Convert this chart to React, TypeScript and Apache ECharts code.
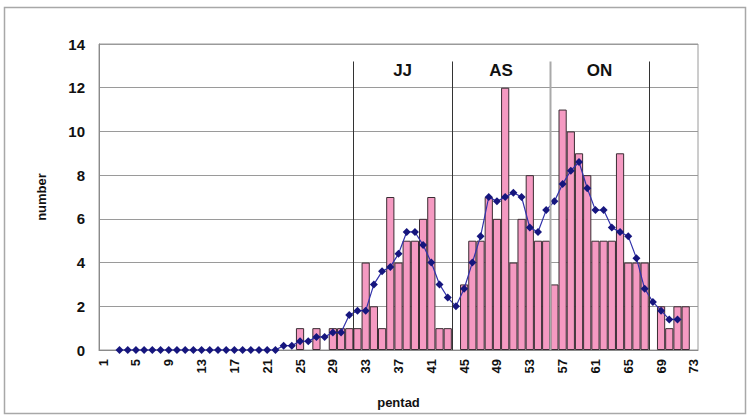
import React, { useEffect, useRef } from "react";
import * as echarts from "echarts";

// pentad categories 1..73
const pentads: string[] = Array.from({ length: 73 }, (_, i) => String(i + 1));

// number per pentad (bars)
const counts: number[] = [
  0, 0, 0, 0, 0, 0, 0, 0, 0, 0,
  0, 0, 0, 0, 0, 0, 0, 0, 0, 0,
  0, 0, 0, 0, 1, 0, 1, 0, 1, 1,
  1, 1, 4, 2, 1, 7, 4, 5, 5, 6,
  7, 1, 1, 0, 3, 5, 5, 7, 6, 12,
  4, 6, 8, 5, 5, 3, 11, 10, 9, 8,
  5, 5, 5, 9, 4, 4, 4, 0, 2, 1,
  2, 2, 0,
];

// smoothed curve (line with diamond markers)
const smoothed: (number | null)[] = [
  null, null, 0, 0, 0, 0, 0, 0, 0, 0,
  0, 0, 0, 0, 0, 0, 0, 0, 0, 0,
  0, 0, 0.2, 0.2, 0.4, 0.4, 0.6, 0.6, 0.8, 0.8,
  1.6, 1.8, 1.8, 3.0, 3.6, 3.8, 4.4, 5.4, 5.4, 4.8,
  4.0, 3.0, 2.4, 2.0, 2.8, 4.0, 5.2, 7.0, 6.8, 7.0,
  7.2, 7.0, 5.6, 5.4, 6.4, 6.8, 7.6, 8.2, 8.6, 7.4,
  6.4, 6.4, 5.6, 5.4, 5.2, 4.2, 2.8, 2.2, 1.8, 1.4,
  1.4, null, null,
];

// season boundaries (between pentads) and season names
const seasonBounds: number[] = [31.5, 43.5, 55.5, 67.5];
const seasonNames: string[] = ["JJ", "AS", "ON"];

const yTicks = { min: 0, max: 14, interval: 2 };

const FONT = "'Liberation Sans', Arial, sans-serif";

export default function App() {
  const ref = useRef<HTMLDivElement>(null);

  useEffect(() => {
    if (!ref.current) return;
    const chart = echarts.init(ref.current, undefined, { renderer: "svg" });

    const option: any = {
      animation: false,
      backgroundColor: "#ffffff",
      grid: {
        left: 99,
        right: 51,
        top: 44,
        bottom: 67,
        containLabel: false,
        outerBoundsMode: "none",
        show: true,
        borderColor: "#9a9a9a",
        borderWidth: 1,
      },
      xAxis: {
        type: "category",
        data: pentads,
        boundaryGap: true,
        name: "pentad",
        nameLocation: "middle",
        nameGap: 46,
        nameTextStyle: { fontFamily: FONT, fontWeight: "bold", fontSize: 13, color: "#111" },
        axisLine: { lineStyle: { color: "#8a8a8a", width: 1 } },
        axisTick: { show: false },
        axisLabel: {
          interval: 3,
          rotate: 90,
          margin: 9,
          fontFamily: FONT,
          fontWeight: "bold",
          fontSize: 13,
          color: "#111",
        },
        splitLine: { show: false },
      },
      yAxis: {
        type: "value",
        min: yTicks.min,
        max: yTicks.max,
        interval: yTicks.interval,
        name: "number",
        nameLocation: "middle",
        nameRotate: 90,
        nameGap: 51,
        nameTextStyle: { fontFamily: FONT, fontWeight: "bold", fontSize: 13, color: "#111" },
        axisLine: { show: true, lineStyle: { color: "#8a8a8a", width: 1 } },
        axisTick: { show: false },
        axisLabel: {
          margin: 14,
          fontFamily: FONT,
          fontWeight: "bold",
          fontSize: 15,
          color: "#111",
        },
        splitLine: { show: true, lineStyle: { color: "#9a9a9a", width: 1 } },
      },
      series: [
        {
          type: "bar",
          data: counts.map((v) => (v === 0 ? "-" : v)),
          barCategoryGap: "0%",
          itemStyle: { color: "#f59ac2", borderColor: "#3a2c33", borderWidth: 1 },
          z: 2,
        },
        {
          type: "line",
          data: smoothed,
          symbol: "diamond",
          symbolSize: 8,
          showSymbol: true,
          showAllSymbol: true,
          connectNulls: false,
          itemStyle: { color: "#16167e" },
          lineStyle: { color: "#3232aa", width: 1.2 },
          z: 3,
        },
      ],
      graphic: [
        {
          type: "rect",
          shape: { x: 4.5, y: 7.5, width: 741, height: 406 },
          style: { fill: "none", stroke: "#a8a8a8", lineWidth: 1.5 },
          silent: true,
        },
      ],
    };

    chart.setOption(option);

    const px = (i: number) => chart.convertToPixel({ xAxisIndex: 0 }, i) as number;
    const py = (v: number) => chart.convertToPixel({ yAxisIndex: 0 }, v) as number;
    const boundX = (b: number) => {
      const lo = Math.floor(b) - 1;
      return (px(lo) + px(lo + 1)) / 2;
    };
    const xs = seasonBounds.map(boundX);
    const yTop = py(13.2);
    const yBot = py(0);
    const extra: any[] = [];
    xs.forEach((x, i) => {
      const gray = i === 2;
      extra.push({
        type: "line",
        shape: { x1: Math.round(x) + 0.5, y1: yTop, x2: Math.round(x) + 0.5, y2: yBot },
        style: { stroke: gray ? "#a9a9a9" : "#333333", lineWidth: gray ? 2 : 1 },
        z: 10,
        silent: true,
      });
    });
    seasonNames.forEach((name, i) => {
      extra.push({
        type: "text",
        x: (xs[i] + xs[i + 1]) / 2,
        y: py(12.8),
        style: {
          text: name,
          fontFamily: FONT,
          fontWeight: "bold",
          fontSize: 17,
          fill: "#111",
          textAlign: "center",
          textVerticalAlign: "middle",
        },
        z: 10,
        silent: true,
      });
    });
    chart.setOption({ graphic: [option.graphic[0], ...extra] });

    return () => chart.dispose();
  }, []);

  return (
    <div
      ref={ref}
      style={{ position: "fixed", left: 0, top: 0, width: 749, height: 417, background: "#fff" }}
    />
  );
}
